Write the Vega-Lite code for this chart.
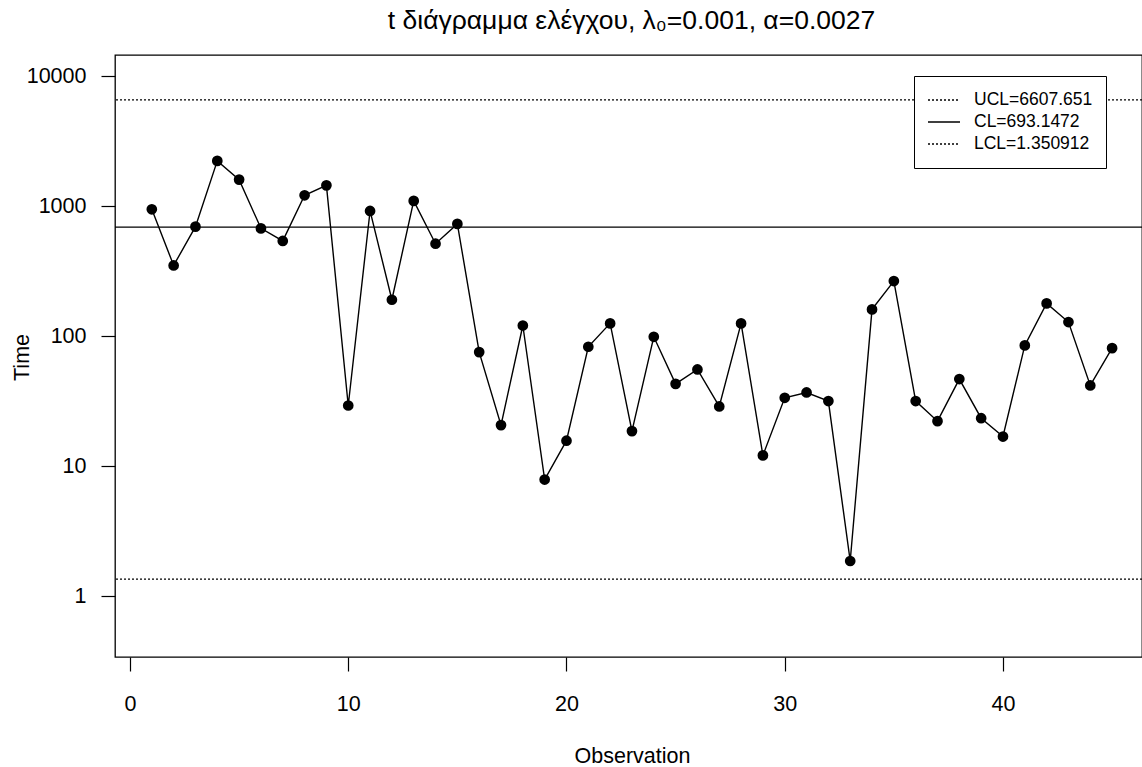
{
  "$schema": "https://vega.github.io/schema/vega-lite/v6.json",
  "width": 1027,
  "height": 602,
  "autosize": {"type": "none"},
  "padding": {"left": 115, "top": 55, "right": 0, "bottom": 110},
  "background": "white",
  "title": {
    "text": "t διάγραμμα ελέγχου,  λ₀=0.001, α=0.0027",
    "font": "Liberation Sans",
    "fontSize": 26.5,
    "fontWeight": "normal",
    "color": "black",
    "anchor": "middle",
    "frame": "group",
    "offset": 21,
    "dx": 3
  },
  "datasets": {
    "obs": [
      {"Observation": 1, "Time": 949},
      {"Observation": 2, "Time": 351},
      {"Observation": 3, "Time": 698},
      {"Observation": 4, "Time": 2240},
      {"Observation": 5, "Time": 1607},
      {"Observation": 6, "Time": 677},
      {"Observation": 7, "Time": 542},
      {"Observation": 8, "Time": 1217},
      {"Observation": 9, "Time": 1452},
      {"Observation": 10, "Time": 29.3},
      {"Observation": 11, "Time": 922},
      {"Observation": 12, "Time": 191},
      {"Observation": 13, "Time": 1102},
      {"Observation": 14, "Time": 516},
      {"Observation": 15, "Time": 733},
      {"Observation": 16, "Time": 75.5},
      {"Observation": 17, "Time": 20.7},
      {"Observation": 18, "Time": 121},
      {"Observation": 19, "Time": 7.88},
      {"Observation": 20, "Time": 15.7},
      {"Observation": 21, "Time": 83},
      {"Observation": 22, "Time": 125.6},
      {"Observation": 23, "Time": 18.6},
      {"Observation": 24, "Time": 99},
      {"Observation": 25, "Time": 43},
      {"Observation": 26, "Time": 55.5},
      {"Observation": 27, "Time": 28.8},
      {"Observation": 28, "Time": 125.6},
      {"Observation": 29, "Time": 12.1},
      {"Observation": 30, "Time": 33.6},
      {"Observation": 31, "Time": 36.9},
      {"Observation": 32, "Time": 31.7},
      {"Observation": 33, "Time": 1.86},
      {"Observation": 34, "Time": 161},
      {"Observation": 35, "Time": 266},
      {"Observation": 36, "Time": 31.7},
      {"Observation": 37, "Time": 22.2},
      {"Observation": 38, "Time": 46.8},
      {"Observation": 39, "Time": 23.4},
      {"Observation": 40, "Time": 16.9},
      {"Observation": 41, "Time": 85},
      {"Observation": 42, "Time": 179},
      {"Observation": 43, "Time": 128.6},
      {"Observation": 44, "Time": 41.8},
      {"Observation": 45, "Time": 81}
    ],
    "limits": [
      {"limit": "UCL=6607.651", "value": 6607.651},
      {"limit": "CL=693.1472", "value": 693.1472},
      {"limit": "LCL=1.350912", "value": 1.350912}
    ]
  },
  "config": {
    "view": {"stroke": "black", "strokeWidth": 1.3},
    "font": "Liberation Sans",
    "axis": {
      "domain": false,
      "grid": false,
      "tickColor": "black",
      "tickWidth": 1.2,
      "tickSize": 14,
      "labelFont": "Liberation Sans",
      "labelFontSize": 21.5,
      "labelColor": "black",
      "labelFlush": false,
      "labelOverlap": false,
      "titleFont": "Liberation Sans",
      "titleFontSize": 21.5,
      "titleFontWeight": "normal",
      "titleColor": "black"
    }
  },
  "layer": [
    {
      "data": {"name": "limits"},
      "mark": {"type": "rule", "strokeWidth": 1.3, "color": "black"},
      "encoding": {
        "y": {
          "field": "value",
          "type": "quantitative",
          "scale": {"type": "log", "domain": [0.3391, 14640], "nice": false},
          "axis": {
            "title": "Time",
            "values": [1, 10, 100, 1000, 10000],
            "format": "d",
            "labelPadding": 15,
            "titleAngle": -90,
            "titleX": -87,
            "titleY": 302,
            "titleAlign": "center",
            "titleBaseline": "alphabetic"
          }
        },
        "strokeDash": {
          "field": "limit",
          "type": "nominal",
          "scale": {
            "domain": ["UCL=6607.651", "CL=693.1472", "LCL=1.350912"],
            "range": [[2, 2], [1, 0], [2, 2]]
          },
          "legend": {
            "title": null,
            "orient": "none",
            "legendX": 799,
            "legendY": 21,
            "direction": "vertical",
            "fillColor": "white",
            "strokeColor": "black",
            "padding": 13,
            "symbolType": "stroke",
            "symbolSize": 1024,
            "symbolStrokeWidth": 1.3,
            "symbolStrokeColor": "black",
            "clipHeight": 22,
            "labelFont": "Liberation Sans",
            "labelFontSize": 17.5,
            "labelColor": "black",
            "labelOffset": 13,
            "rowPadding": 0
          }
        }
      }
    },
    {
      "data": {"name": "obs"},
      "mark": {"type": "line", "color": "black", "strokeWidth": 1.4},
      "encoding": {
        "x": {
          "field": "Observation",
          "type": "quantitative",
          "scale": {"domain": [-0.687, 46.37], "nice": false, "zero": false},
          "axis": {
            "title": "Observation",
            "values": [0, 10, 20, 30, 40],
            "labelPadding": 22,
            "titleX": 517,
            "titleY": 105,
            "titleAlign": "center",
            "titleBaseline": "alphabetic"
          }
        },
        "y": {
          "field": "Time",
          "type": "quantitative",
          "scale": {"type": "log", "domain": [0.3391, 14640], "nice": false}
        }
      }
    },
    {
      "data": {"name": "obs"},
      "mark": {"type": "point", "filled": true, "shape": "circle", "color": "black", "size": 115, "opacity": 1},
      "encoding": {
        "x": {"field": "Observation", "type": "quantitative"},
        "y": {"field": "Time", "type": "quantitative"}
      }
    }
  ]
}
